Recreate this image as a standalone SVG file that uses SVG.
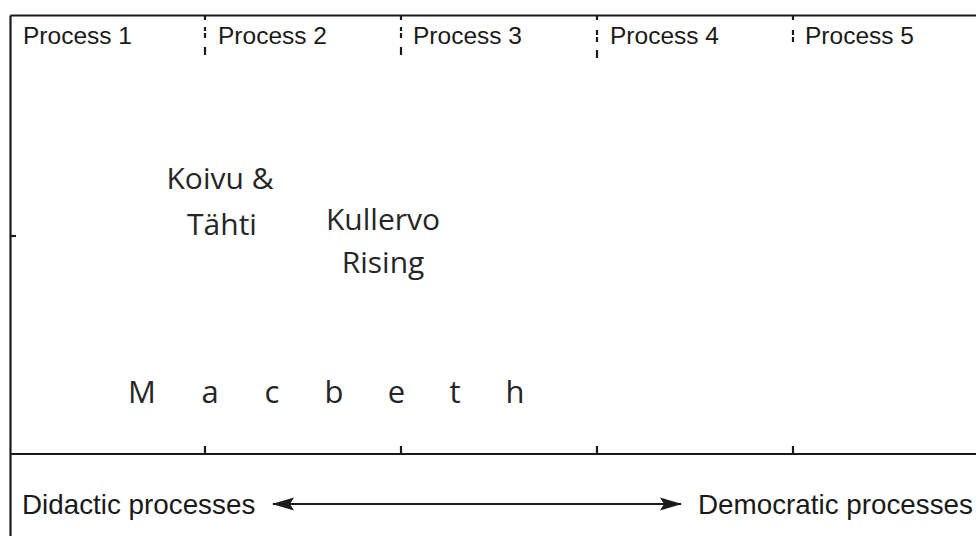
<svg xmlns="http://www.w3.org/2000/svg" width="976" height="536" viewBox="0 0 976 536">
  <style>
    .frame { stroke: #1a1a1a; stroke-width: 2.2; fill: none; }
    .tick { stroke: #1a1a1a; stroke-width: 2.2; fill: none; }
    .hdr { font-family: "Liberation Sans", Arial, sans-serif; font-size: 24.5px; fill: #1a1a1a; }
    .axis { font-family: "Liberation Sans", Arial, sans-serif; font-size: 27.8px; fill: #1a1a1a; }
    .work { font-family: "Open Sans", "Noto Sans", sans-serif; font-size: 30px; fill: #262626; text-anchor: middle; }
    .mac { font-family: "Open Sans", "Noto Sans", sans-serif; font-size: 31px; fill: #262626; text-anchor: middle; }
    .arrow { stroke: #1a1a1a; stroke-width: 2; fill: none; }
  </style>
  <defs>
    <marker id="head" viewBox="0 0 22 14" refX="21" refY="7" markerWidth="22" markerHeight="14" markerUnits="userSpaceOnUse" orient="auto-start-reverse">
      <path d="M0,0.5 L22,7 L0,13.5 L4,7 Z" fill="#1a1a1a"/>
    </marker>
  </defs>
  <rect width="976" height="536" fill="#ffffff"/>

  <g id="frame">
    <line class="frame" x1="10.5" y1="15.5" x2="976" y2="15.5"/>
    <line class="frame" x1="10.5" y1="15.5" x2="10.5" y2="536"/>
    <line class="frame" x1="10.5" y1="454" x2="976" y2="454"/>
    <line class="tick" x1="10.5" y1="236" x2="16" y2="236"/>
  </g>

  <g id="dividers">
    <g id="divider-1">
      <line class="tick" x1="205" y1="15" x2="205" y2="20"/>
      <line class="tick" x1="205" y1="27" x2="205" y2="31"/>
      <line class="tick" x1="205" y1="33" x2="205" y2="38"/>
      <line class="tick" x1="205" y1="47" x2="205" y2="55"/>
      <line class="tick" x1="205" y1="446" x2="205" y2="454"/>
    </g>
    <g id="divider-2">
      <line class="tick" x1="401" y1="15" x2="401" y2="20"/>
      <line class="tick" x1="401" y1="27" x2="401" y2="31"/>
      <line class="tick" x1="401" y1="33" x2="401" y2="38"/>
      <line class="tick" x1="401" y1="47" x2="401" y2="55"/>
      <line class="tick" x1="401" y1="446" x2="401" y2="454"/>
    </g>
    <g id="divider-3">
      <line class="tick" x1="597" y1="15" x2="597" y2="20"/>
      <line class="tick" x1="597" y1="30" x2="597" y2="35"/>
      <line class="tick" x1="597" y1="37" x2="597" y2="42"/>
      <line class="tick" x1="597" y1="50" x2="597" y2="58"/>
      <line class="tick" x1="597" y1="446" x2="597" y2="454"/>
    </g>
    <g id="divider-4">
      <line class="tick" x1="793" y1="15" x2="793" y2="20"/>
      <line class="tick" x1="793" y1="30" x2="793" y2="35"/>
      <line class="tick" x1="793" y1="37" x2="793" y2="42"/>
      <line class="tick" x1="793" y1="446" x2="793" y2="454"/>
    </g>
  </g>

  <g id="process-1"><text class="hdr" x="23" y="44">Process 1</text></g>
  <g id="process-2"><text class="hdr" x="218" y="44">Process 2</text></g>
  <g id="process-3"><text class="hdr" x="413" y="44">Process 3</text></g>
  <g id="process-4"><text class="hdr" x="610" y="44">Process 4</text></g>
  <g id="process-5"><text class="hdr" x="805" y="44">Process 5</text></g>

  <g id="koivu-tahti">
    <text class="work" x="220" y="189">Koivu &amp;</text>
    <text class="work" x="222" y="235">Tähti</text>
  </g>
  <g id="kullervo-rising">
    <text class="work" x="383" y="230">Kullervo</text>
    <text class="work" x="383" y="273">Rising</text>
  </g>
  <g id="macbeth">
    <text class="mac" x="142 210 272 334 396.5 455 515" y="403">Macbeth</text>
  </g>

  <g id="didactic"><text class="axis" x="22" y="514">Didactic processes</text></g>
  <g id="democratic"><text class="axis" x="698" y="514">Democratic processes</text></g>

  <g id="connectors">
    <line class="arrow" x1="273" y1="504" x2="681" y2="504" marker-start="url(#head)" marker-end="url(#head)"/>
  </g>
</svg>
